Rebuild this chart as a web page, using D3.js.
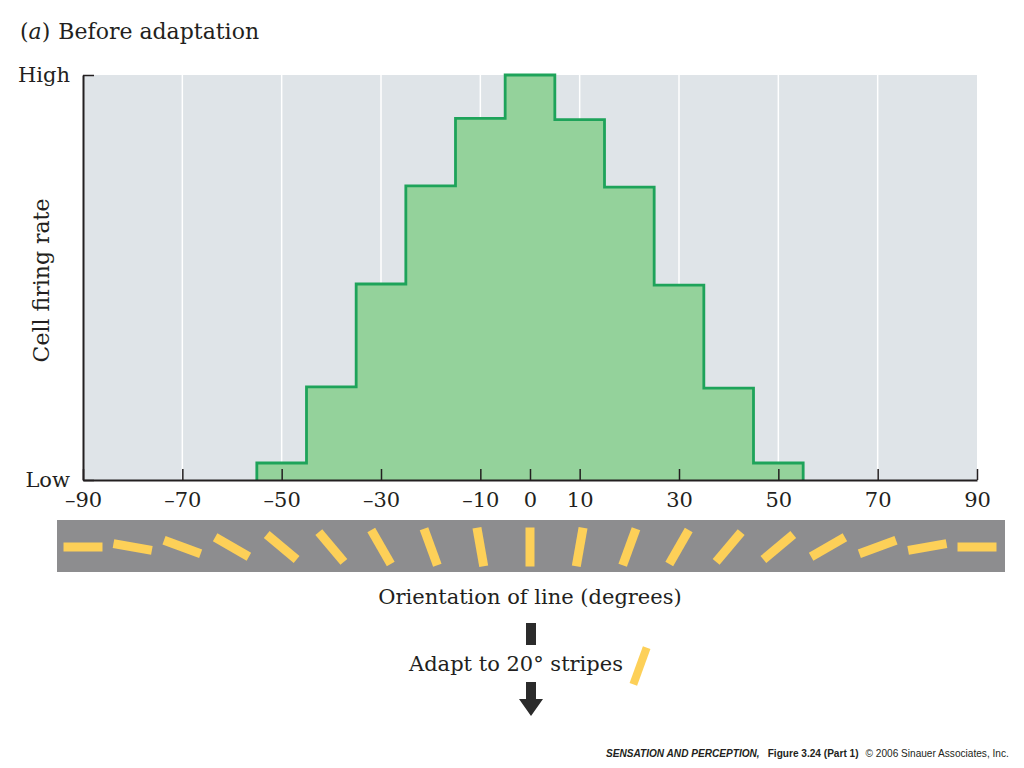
<!DOCTYPE html>
<html>
<head>
<meta charset="utf-8">
<script src="https://cdn.jsdelivr.net/npm/d3@7"></script>
<style>
  body { margin: 0; background: #fff; }
  svg { display: block; }
  .serif { font-family: "DejaVu Serif", "Liberation Serif", serif; fill: #231f20; }
  .foot { font-family: "Liberation Sans", Arial, sans-serif; font-size: 10.1px; fill: #231f20; }
</style>
</head>
<body>
<svg id="chart" width="1024" height="768"></svg>
<script>
// Firing rate per 10-degree orientation bin (0 = Low, 1 = High)
const binCenters = [-50, -40, -30, -20, -10, 0, 10, 20, 30, 40, 50];
const firingRates = [0.042, 0.23, 0.484, 0.726, 0.893, 1.0, 0.89, 0.723, 0.481, 0.227, 0.042];
const binWidth = 10;

// Axis ticks and gridlines
const tickValues = [-90, -70, -50, -30, -10, 0, 10, 30, 50, 70, 90];
const gridValues = [-70, -50, -30, -10, 10, 30, 50, 70];
const yTicks = [0, 1];
const yTickLabels = ["Low", "High"];

// Orientations of the sample stripes drawn under the axis
const stripeOrientations = [-90, -80, -70, -60, -50, -40, -30, -20, -10, 0, 10, 20, 30, 40, 50, 60, 70, 80, 90];
const adaptOrientation = 20;

const svg = d3.select("#chart");
const margin = { left: 83, right: 977, top: 75, bottom: 480 };

const x = d3.scaleLinear().domain([-90, 90]).range([margin.left, margin.right]);
const y = d3.scaleLinear().domain([0, 1]).range([margin.bottom, margin.top]);

// Title
const title = svg.append("text").attr("class", "serif")
    .attr("x", 20).attr("y", 39).style("font-size", "22px");
title.append("tspan").text("(");
title.append("tspan").style("font-style", "italic").text("a");
title.append("tspan").text(")");
title.append("tspan").attr("dx", 8).text("Before adaptation");

// Plot background
svg.append("rect")
    .attr("x", x(-90)).attr("y", y(1))
    .attr("width", x(90) - x(-90)).attr("height", y(0) - y(1))
    .attr("fill", "#dfe4e8");

// White vertical gridlines
svg.append("g").selectAll("line")
    .data(gridValues)
    .enter().append("line")
    .attr("x1", d => x(d)).attr("x2", d => x(d))
    .attr("y1", y(1)).attr("y2", y(0))
    .attr("stroke", "#ffffff")
    .attr("stroke-width", 1.5);

// Step histogram
const stepPoints = [[binCenters[0] - binWidth / 2, 0]];
binCenters.forEach((c, i) => {
    stepPoints.push([c - binWidth / 2, firingRates[i]]);
    stepPoints.push([c + binWidth / 2, firingRates[i]]);
});
stepPoints.push([binCenters[binCenters.length - 1] + binWidth / 2, 0]);

const stepLine = d3.line().x(d => x(d[0])).y(d => y(d[1]));

svg.append("path")
    .attr("d", stepLine(stepPoints) + "Z")
    .attr("fill", "#94d29b");

svg.append("path")
    .attr("d", stepLine(stepPoints))
    .attr("fill", "none")
    .attr("stroke", "#1ea35a")
    .attr("stroke-width", 2.8)
    .attr("stroke-linejoin", "miter");

// Axes
const xAxis = svg.append("g")
    .attr("transform", `translate(0,${y(0)})`)
    .call(d3.axisBottom(x).tickValues(tickValues).tickSizeInner(-11).tickSizeOuter(0).tickPadding(12)
        .tickFormat(d => d < 0 ? "\u2013" + Math.abs(d) : d));
xAxis.select(".domain").attr("stroke", "#231f20").attr("stroke-width", 2);
xAxis.selectAll(".tick line").attr("stroke", "#231f20").attr("stroke-width", 1.5);
xAxis.selectAll(".tick text")
    .attr("class", "serif")
    .attr("fill", "#231f20")
    .style("font-size", "21px");

const yAxis = svg.append("g")
    .attr("transform", `translate(${x(-90)},0)`)
    .call(d3.axisLeft(y).tickValues(yTicks).tickSizeInner(-11).tickSizeOuter(0).tickPadding(13)
        .tickFormat((d, i) => yTickLabels[i]));
yAxis.select(".domain").attr("stroke", "#231f20").attr("stroke-width", 2);
yAxis.selectAll(".tick line").attr("stroke", "#231f20").attr("stroke-width", 1.5);
yAxis.selectAll(".tick text")
    .attr("class", "serif")
    .attr("fill", "#231f20")
    .attr("dy", "0.3em")
    .style("font-size", "21px");

svg.append("text").attr("class", "serif")
    .attr("transform", `translate(49,${(y(0) + y(1)) / 2 + 3}) rotate(-90)`)
    .attr("text-anchor", "middle")
    .style("font-size", "22px")
    .text("Cell firing rate");

// Stripe band
svg.append("rect")
    .attr("x", 57).attr("y", 520)
    .attr("width", 948).attr("height", 52)
    .attr("fill", "#8d8d8f");

const stripeLen = 39, stripeW = 9;
svg.append("g").selectAll("rect")
    .data(stripeOrientations)
    .enter().append("rect")
    .attr("x", -stripeW / 2).attr("y", -stripeLen / 2)
    .attr("width", stripeW).attr("height", stripeLen)
    .attr("fill", "#fdd058")
    .attr("transform", d => `translate(${x(d)},547) rotate(${d})`);

svg.append("text").attr("class", "serif")
    .attr("x", x(0)).attr("y", 604)
    .attr("text-anchor", "middle")
    .style("font-size", "21px")
    .text("Orientation of line (degrees)");

// Adaptation step
svg.append("rect")
    .attr("x", 526).attr("y", 623).attr("width", 10).attr("height", 22)
    .attr("fill", "#2b2b2b");

svg.append("text").attr("class", "serif")
    .attr("x", 516).attr("y", 671)
    .attr("text-anchor", "middle")
    .style("font-size", "21px")
    .text("Adapt to 20\u00b0 stripes");

svg.append("rect")
    .attr("x", -stripeW / 2 + 0.5).attr("y", -stripeLen / 2)
    .attr("width", stripeW - 1).attr("height", stripeLen)
    .attr("fill", "#fdd058")
    .attr("transform", `translate(640,666) rotate(${adaptOrientation})`);

svg.append("path")
    .attr("d", "M526,682 L536,682 L536,699 L543,699 L531,716 L519,699 L526,699 Z")
    .attr("fill", "#2b2b2b");

// Footer
const foot = svg.append("text").attr("class", "foot")
    .attr("x", 606).attr("y", 757);
foot.append("tspan").style("font-weight", "bold").style("font-style", "italic").text("SENSATION AND PERCEPTION,");
foot.append("tspan").style("font-weight", "bold").attr("dx", 8).text("Figure 3.24 (Part 1)");
foot.append("tspan").attr("dx", 7).text("\u00a9 2006 Sinauer Associates, Inc.");
</script>
</body>
</html>
